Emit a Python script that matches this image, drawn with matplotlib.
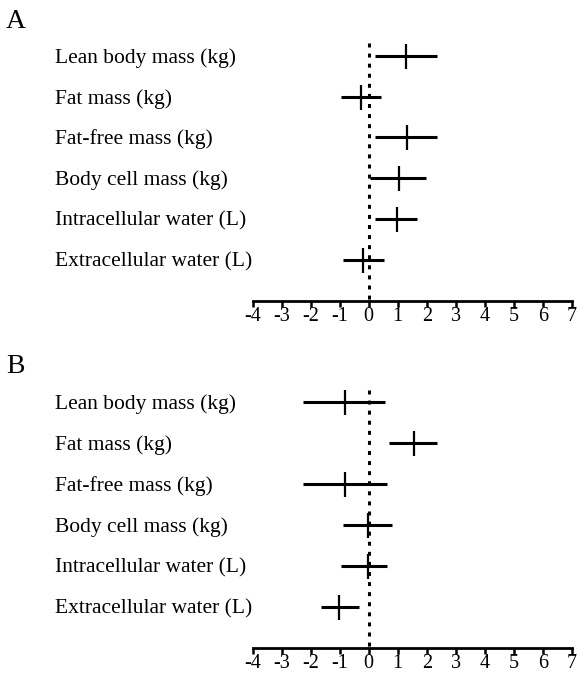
import matplotlib.pyplot as plt
import matplotlib.transforms as mtransforms

labels = ["Lean body mass (kg)", "Fat mass (kg)", "Fat-free mass (kg)",
          "Body cell mass (kg)", "Intracellular water (L)", "Extracellular water (L)"]

# panel A: estimate, lower and upper limits
a_est = [1.28, -0.26, 1.32, 1.05, 0.97, -0.18]
a_lo = [0.22, -0.95, 0.22, 0.05, 0.22, -0.89]
a_hi = [2.35, 0.43, 2.35, 1.98, 1.66, 0.53]

# panel B
b_est = [-0.81, 1.57, -0.83, -0.03, -0.03, -1.04]
b_lo = [-2.25, 0.71, -2.25, -0.89, -0.95, -1.65]
b_hi = [0.57, 2.35, 0.63, 0.80, 0.63, -0.35]

xticks = list(range(-4, 8))

plt.rcParams['font.family'] = ['Liberation Serif', 'DejaVu Serif']

fig = plt.figure(figsize=(5.79, 6.75), dpi=100)


def panel(rect, est, lo, hi, letter, letter_y):
    ax = fig.add_axes(rect)
    rows = list(range(1, len(labels) + 1))
    ax.hlines(rows, lo, hi, color="black", lw=2.2, capstyle="butt")
    ax.plot(est, rows, "|", color="black", ms=18, mew=1.6)
    ax.vlines(0, 0.7, 7, color="black", lw=2.2, linestyle=(0, (1.3, 2.0)))
    ax.set_xlim(-4, 7)
    ax.set_ylim(7, 0.5)
    ax.set_xticks(xticks)
    ax.set_xticklabels([str(t) for t in xticks], fontsize=14.5)
    ax.tick_params(axis="x", direction="out", length=4, width=1.8, pad=0.5)
    ax.set_yticks([])
    for s in ["top", "left", "right"]:
        ax.spines[s].set_visible(False)
    ax.spines["bottom"].set_linewidth(2)
    trans = mtransforms.blended_transform_factory(fig.transFigure, ax.transData)
    for r, lab in zip(rows, labels):
        ax.text(55 / 579, r + 0.05, lab, transform=trans, ha="left", va="center", fontsize=15.5)
    fig.text(6 / 579, letter_y, letter, fontsize=20, ha="left", va="center")
    return ax


panel([252.7 / 579, 1 - 301.1 / 675, 319 / 579, (301.1 - 35.25) / 675],
      a_est, a_lo, a_hi, "A", 1 - 22 / 675)
panel([252.7 / 579, 1 - 647.5 / 675, 319 / 579, (647.5 - 381.5) / 675],
      b_est, b_lo, b_hi, "B", 1 - 366 / 675)

plt.savefig("out.png", dpi=100)
